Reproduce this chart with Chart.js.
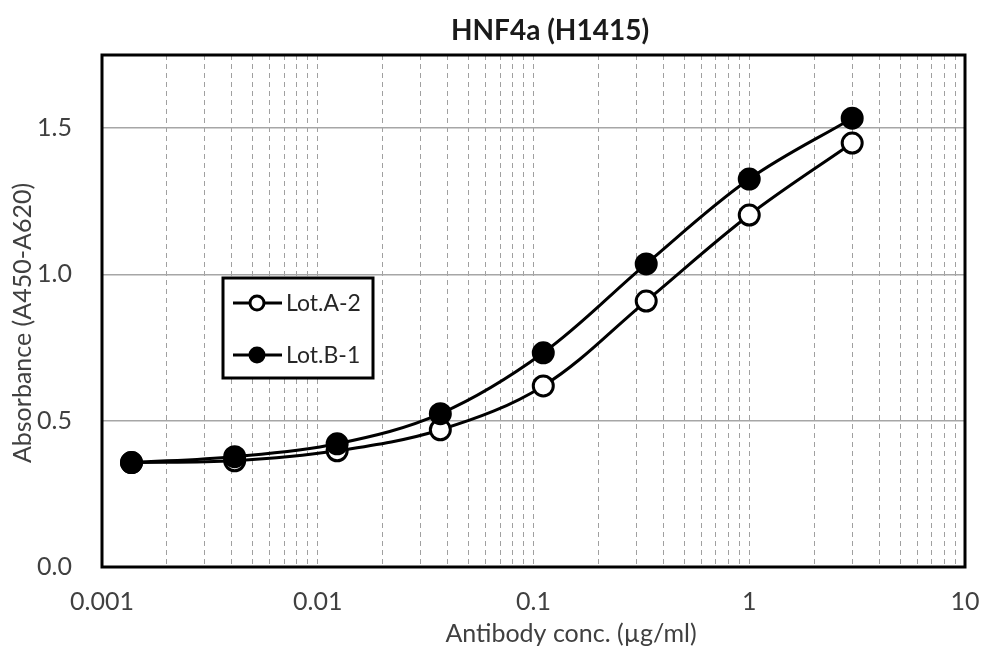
<!DOCTYPE html>
<html><head><meta charset="utf-8">
<script src="https://cdn.jsdelivr.net/npm/chart.js@4"></script>
<style>html,body{margin:0;padding:0;background:#fff;} #wrap{width:984px;height:650px;position:relative;}</style>
</head><body><div id="wrap"><canvas id="c" width="984" height="650"></canvas></div>
<script>
const concentrations = [0.00137, 0.00412, 0.0123, 0.037, 0.111, 0.333, 1, 3];
const lotA2 = [0.357, 0.363, 0.397, 0.469, 0.619, 0.909, 1.203, 1.449];
const lotB1 = [0.357, 0.377, 0.421, 0.524, 0.732, 1.036, 1.326, 1.534];
const seriesNames = ['Lot.A-2', 'Lot.B-1'];
const xTickLabels = ['0.001', '0.01', '0.1', '1', '10'];
const yTickLabels = ['0.0', '0.5', '1.0', '1.5'];
const chartTitle = 'HNF4a (H1415)';
const xTitle = 'Antibody conc. (\u00b5g/ml)';
const yTitle = 'Absorbance (A450-A620)';

const FONT = 'Lato, "Open Sans", sans-serif';

const toPts = ys => ys.map((y, i) => ({x: concentrations[i], y}));

const decorPlugin = {
  id: 'decor',
  afterDraw(chart) {
    const {ctx, chartArea: a} = chart;
    ctx.save();
    // plot border
    ctx.strokeStyle = '#000';
    ctx.lineWidth = 3;
    ctx.strokeRect(a.left, a.top, a.right - a.left, a.bottom - a.top);
    // title
    ctx.fillStyle = '#1a1a1a';
    ctx.textAlign = 'center';
    ctx.textBaseline = 'middle';
    ctx.font = 'bold 28px ' + FONT;
    ctx.fillText(chartTitle, 550, 31);
    // x title
    ctx.font = '25px ' + FONT;
    ctx.fillStyle = '#404040';
    ctx.fillText(xTitle, 571, 634);
    // y title
    ctx.save();
    ctx.translate(23, 323);
    ctx.rotate(-Math.PI / 2);
    ctx.fillText(yTitle, 0, 0);
    ctx.restore();
    // legend
    const lx = a.left + 121, ly = a.top + 223, lw = 150, lh = 100;
    ctx.fillStyle = '#fff';
    ctx.fillRect(lx, ly, lw, lh);
    ctx.strokeStyle = '#000';
    ctx.lineWidth = 3;
    ctx.strokeRect(lx, ly, lw, lh);
    const ds = chart.data.datasets;
    seriesNames.forEach((name, k) => {
      const d = ds.find(x => x.label === name);
      const cy = ly + 25 + k * 52;
      ctx.beginPath();
      ctx.moveTo(lx + 10, cy);
      ctx.lineTo(lx + 59, cy);
      ctx.lineWidth = 3;
      ctx.strokeStyle = '#000';
      ctx.stroke();
      ctx.beginPath();
      ctx.arc(lx + 34, cy, 7, 0, Math.PI * 2);
      ctx.fillStyle = d.pointBackgroundColor;
      ctx.fill();
      ctx.lineWidth = 3;
      ctx.stroke();
      ctx.fillStyle = '#262626';
      ctx.textAlign = 'left';
      ctx.font = '23px ' + FONT;
      ctx.fillText(d.label, lx + 63, cy + 1);
    });
    ctx.restore();
  }
};

new Chart(document.getElementById('c'), {
  type: 'line',
  data: {
    datasets: [
      {
        label: seriesNames[0], data: toPts(lotA2), order: 1,
        borderColor: '#000', borderWidth: 3, tension: 0.35,
        pointRadius: 10, pointHoverRadius: 10, pointBorderWidth: 3,
        pointBackgroundColor: '#fff', pointBorderColor: '#000'
      },
      {
        label: seriesNames[1], data: toPts(lotB1), order: 0,
        borderColor: '#000', borderWidth: 3, tension: 0.35,
        pointRadius: 10, pointHoverRadius: 10, pointBorderWidth: 3,
        pointBackgroundColor: '#000', pointBorderColor: '#000'
      }
    ]
  },
  options: {
    responsive: false,
    animation: false,
    events: [],
    layout: {padding: {top: 55, right: 19, left: 0, bottom: 0}},
    plugins: {legend: {display: false}, title: {display: false}, tooltip: {enabled: false}},
    scales: {
      x: {
        type: 'logarithmic',
        min: parseFloat(xTickLabels[0]),
        max: parseFloat(xTickLabels[xTickLabels.length - 1]),
        afterBuildTicks(scale) {
          const t = [];
          for (let i = 0; i < xTickLabels.length - 1; i++) {
            const b = parseFloat(xTickLabels[i]);
            for (let k = 1; k <= 9; k++) t.push({value: +(b * k).toPrecision(6)});
          }
          t.push({value: parseFloat(xTickLabels[xTickLabels.length - 1])});
          scale.ticks = t;
        },
        afterFit(scale) { scale.height = 83; scale.paddingLeft = 0; scale.paddingRight = 0; },
        grid: {color: '#a0a0a0', lineWidth: 1, drawTicks: false},
        border: {display: false, dash: [5, 4]},
        ticks: {
          autoSkip: false, maxRotation: 0, padding: 20,
          color: '#404040', font: {family: FONT, size: 25},
          callback(v) {
            const m = xTickLabels.find(s => Math.abs(parseFloat(s) - v) < 1e-9 * Math.max(1, v));
            return m || '';
          }
        }
      },
      y: {
        type: 'linear', min: 0, max: 1.75,
        afterBuildTicks(scale) { scale.ticks = yTickLabels.map(s => ({value: parseFloat(s)})); },
        afterFit(scale) { scale.width = 102; scale.paddingTop = 0; scale.paddingBottom = 0; },
        grid: {color: '#a6a6a6', lineWidth: 1.5, drawTicks: false},
        border: {display: false},
        ticks: {
          padding: 30, color: '#404040', font: {family: FONT, size: 25},
          callback(v) { return yTickLabels.find(s => parseFloat(s) === v) || ''; }
        }
      }
    }
  },
  plugins: [decorPlugin]
});
</script>
</body></html>
